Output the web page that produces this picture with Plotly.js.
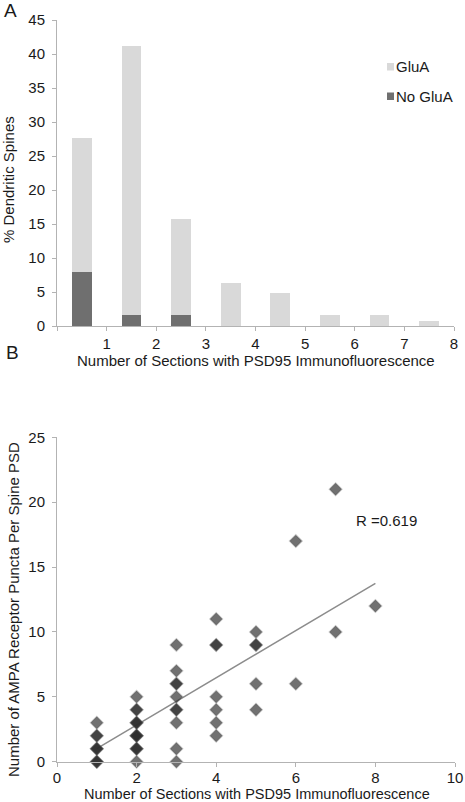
<!DOCTYPE html>
<html>
<head>
<meta charset="utf-8">
<script src="https://cdn.plot.ly/plotly-3.0.1.min.js"></script>
<style>
  html, body { margin: 0; padding: 0; background: #ffffff; }
  #chart { width: 465px; height: 802px; }
</style>
</head>
<body>
<div id="chart"></div>
<script>
// ---- Panel A data ----
const sections = [1, 2, 3, 4, 5, 6, 7, 8];
const xTickLabels = ['', '1', '2', '3', '4', '5', '6', '7', '8'];
const gluaPct = [19.7, 39.6, 14.2, 6.3, 4.8, 1.6, 1.6, 0.8];
const noGluaPct = [8.0, 1.6, 1.6, 0, 0, 0, 0, 0];

// ---- Panel B data (one row per x value) ----
const scatterX = [
  1, 1, 1, 1, 1, 1, 1, 1, 1,
  2, 2, 2, 2, 2, 2, 2, 2, 2, 2, 2, 2, 2, 2,
  3, 3, 3, 3, 3, 3, 3, 3, 3, 3,
  4, 4, 4, 4, 4, 4, 4,
  5, 5, 5, 5, 5,
  6, 6,
  7, 7,
  8
];
const scatterY = [
  3, 2, 2, 1, 1, 1, 0, 0, 0,
  5, 4, 4, 3, 3, 3, 2, 2, 2, 2, 1, 1, 1, 0,
  9, 7, 6, 6, 5, 4, 4, 3, 1, 0,
  11, 9, 9, 5, 4, 3, 2,
  10, 9, 9, 6, 4,
  17, 6,
  21, 10,
  12
];
const trendX = [1, 8];
const trendY = [1.0, 13.75];
const rLabel = 'R =0.619';

// ---- helpers ----
const W = 465, H = 802;
const px = v => v / W;
const py = v => 1 - v / H;

const FONT = 'Liberation Sans, Arial, sans-serif';
const TXT = '#1a1a1a';
const AXC = '#b3b3b3';

// bar centres sit between the labelled boundaries
const barX = sections.map(s => s - 0.5);

const traces = [
  {
    type: 'bar', name: 'No GluA', x: barX, y: noGluaPct, width: 0.4,
    marker: { color: '#6f6f6f' }, xaxis: 'x', yaxis: 'y'
  },
  {
    type: 'bar', name: 'GluA', x: barX, y: gluaPct, width: 0.4,
    marker: { color: '#d9d9d9' }, xaxis: 'x', yaxis: 'y'
  },
  {
    type: 'scatter', mode: 'lines', x: trendX, y: trendY,
    line: { color: '#8c8c8c', width: 1.5 }, xaxis: 'x2', yaxis: 'y2'
  },
  {
    type: 'scatter', mode: 'markers', x: scatterX, y: scatterY, cliponaxis: false,
    marker: { symbol: 'diamond', size: 9.5, color: 'rgba(45,45,45,0.68)',
              line: { color: 'rgba(80,80,80,0.3)', width: 1.5 } },
    xaxis: 'x2', yaxis: 'y2'
  }
];

const axisCommon = {
  showgrid: false, zeroline: false, showline: true, linecolor: AXC, linewidth: 1,
  ticks: 'outside', ticklen: 4, tickcolor: AXC, tickwidth: 1,
  tickfont: { family: FONT, size: 15, color: TXT }, fixedrange: true
};

const layout = {
  width: W, height: H,
  margin: { l: 0, r: 0, t: 0, b: 0 },
  paper_bgcolor: '#ffffff', plot_bgcolor: '#ffffff',
  showlegend: false,
  barmode: 'stack',
  font: { family: FONT, size: 15, color: TXT },
  xaxis: Object.assign({}, axisCommon, {
    domain: [px(57), px(454)], range: [0, 8], anchor: 'y',
    tickmode: 'array', tickvals: [0, 1, 2, 3, 4, 5, 6, 7, 8], ticktext: xTickLabels
  }),
  yaxis: Object.assign({}, axisCommon, {
    domain: [py(326), py(20)], range: [0, 45], anchor: 'x',
    tickmode: 'linear', tick0: 0, dtick: 5, ticklabelstandoff: 4
  }),
  xaxis2: Object.assign({}, axisCommon, {
    domain: [px(57), px(455)], range: [0, 10], anchor: 'y2',
    tickmode: 'linear', tick0: 0, dtick: 2, ticklabelstandoff: -2
  }),
  yaxis2: Object.assign({}, axisCommon, {
    domain: [py(761.7), py(437.3)], range: [0, 25], anchor: 'x2',
    tickmode: 'linear', tick0: 0, dtick: 5, ticklabelstandoff: 4
  }),
  shapes: [
    { type: 'rect', xref: 'paper', yref: 'paper', x0: px(387), x1: px(394), y0: py(70.5), y1: py(63),
      fillcolor: '#d9d9d9', line: { width: 0 } },
    { type: 'rect', xref: 'paper', yref: 'paper', x0: px(387), x1: px(394), y0: py(100), y1: py(92.5),
      fillcolor: '#6f6f6f', line: { width: 0 } }
  ],
  annotations: [
    { text: 'A', xref: 'paper', yref: 'paper', x: px(2), y: py(10), xanchor: 'left', yanchor: 'middle',
      showarrow: false, font: { family: FONT, size: 19, color: TXT } },
    { text: 'B', xref: 'paper', yref: 'paper', x: px(4), y: py(353), xanchor: 'left', yanchor: 'middle',
      showarrow: false, font: { family: FONT, size: 19, color: TXT } },
    { text: 'GluA', xref: 'paper', yref: 'paper', x: px(394), y: py(67), xanchor: 'left', yanchor: 'middle',
      showarrow: false, font: { family: FONT, size: 15, color: TXT } },
    { text: 'No GluA', xref: 'paper', yref: 'paper', x: px(394), y: py(96.5), xanchor: 'left', yanchor: 'middle',
      showarrow: false, font: { family: FONT, size: 15, color: TXT } },
    { text: 'Number of Sections with PSD95 Immunofluorescence', xref: 'paper', yref: 'paper',
      x: px(256), y: py(360), xanchor: 'center', yanchor: 'middle', showarrow: false,
      font: { family: FONT, size: 15, color: TXT } },
    { text: '% Dendritic Spines', xref: 'paper', yref: 'paper', textangle: -90,
      x: px(8), y: py(180), xanchor: 'center', yanchor: 'middle', showarrow: false,
      font: { family: FONT, size: 15, color: TXT } },
    { text: 'Number of Sections with PSD95 Immunofluorescence', xref: 'paper', yref: 'paper',
      x: px(257), y: py(793.5), xanchor: 'center', yanchor: 'middle', showarrow: false,
      font: { family: FONT, size: 14.5, color: TXT } },
    { text: 'Number of AMPA Receptor Puncta Per Spine PSD', xref: 'paper', yref: 'paper', textangle: -90,
      x: px(13), y: py(610), xanchor: 'center', yanchor: 'middle', showarrow: false,
      font: { family: FONT, size: 15, color: TXT } },
    { text: rLabel, xref: 'x2', yref: 'y2', x: 7.45, y: 18.6, xanchor: 'left', yanchor: 'middle',
      showarrow: false, font: { family: FONT, size: 15, color: TXT } }
  ]
};

Plotly.newPlot('chart', traces, layout, { staticPlot: true, displayModeBar: false });
</script>
</body>
</html>
